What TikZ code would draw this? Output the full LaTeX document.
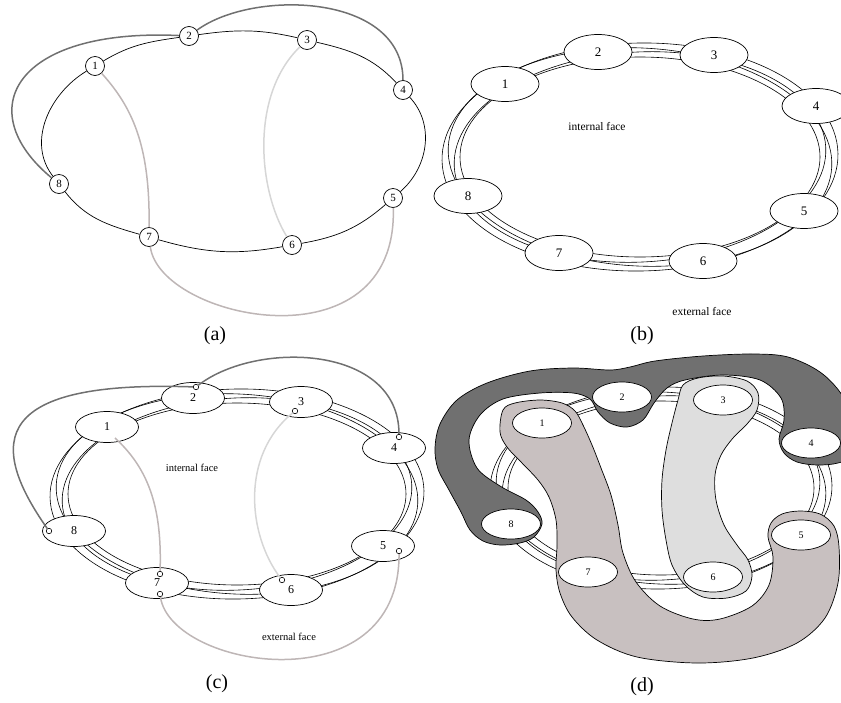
\documentclass[tikz,border=0pt]{standalone}
\usepackage{fontspec}
\setmainfont{Liberation Serif}
\usetikzlibrary{shapes.geometric}
\definecolor{dark-gray}{gray}{0.44}
\definecolor{rose-gray}{RGB}{200,192,192}
\definecolor{pale-gray}{gray}{0.87}
\definecolor{link-rose}{RGB}{190,182,182}
\definecolor{link-pale}{gray}{0.84}
\tikzstyle{vertex}=[draw, circle, fill=white, line width=0.7pt, inner sep=0pt, minimum size=19pt, font=\fontsize{11}{11}\selectfont]
\tikzstyle{disc}=[draw, ellipse, fill=white, line width=0.7pt, inner sep=0pt, minimum width=68pt, minimum height=35pt, font=\fontsize{13}{13}\selectfont]
\tikzstyle{middisc}=[disc, minimum width=63pt, minimum height=31pt, font=\fontsize{12}{12}\selectfont]
\tikzstyle{smalldisc}=[disc, minimum width=59pt, minimum height=30pt, font=\fontsize{10}{10}\selectfont]
\tikzstyle{port}=[draw, circle, fill=white, line width=0.6pt, inner sep=0pt, minimum size=5.5pt]
\tikzstyle{strand}=[line width=0.6pt]
\tikzstyle{darklink}=[dark-gray, line width=1.5pt]
\tikzstyle{roselink}=[link-rose, line width=1.5pt]
\tikzstyle{palelink}=[link-pale, line width=1.5pt]
\tikzstyle{band}=[draw=black, line width=0.7pt]
\tikzstyle{facetext}=[font=\fontsize{11.5}{12}\selectfont]
\tikzstyle{panellabel}=[font=\fontsize{20}{22}\selectfont]
\newcommand{\drawstrands}[4]{% centre x, centre y, x radius, y radius
  \foreach \da/\db/\rot in {-9/-7/0,-3/-2/3,3/2/-3,9/7/1} {
    \pgfmathsetmacro{\strandrx}{#3+\da}
    \pgfmathsetmacro{\strandry}{#4+\db}
    \draw[strand, rotate around={\rot:(#1,#2)}] (#1,#2) ellipse [x radius=\strandrx, y radius=\strandry];
  }
}

\begin{document}
\begin{tikzpicture}[x=1pt, y=1pt]
\useasboundingbox (0,0) rectangle (841,-702);
\clip (0,0) rectangle (841,-702);
% (a) cycle and chords
\begin{scope}
	\foreach \n/\x/\y in {1/95/-66, 2/189/-36, 3/307/-40, 4/403/-90, 5/393/-198, 6/292/-245, 7/149/-237, 8/59/-184}
		\node[vertex] (a\n) at (\x,\y) {\n};
	% cycle edges, tangent to the ellipse
	\foreach \i/\j/\p/\q in {1/2/31/188, 2/3/8/167, 3/4/-13/133, 4/5/-47/41, 5/6/221/10, 6/7/190/-16, 7/8/164/-52, 8/1/128/211}
		\draw[line width=0.7pt] (a\i) to[out=\p, in=\q] (a\j);
	% chords
	\draw[darklink] (a8) .. controls (-30,-110) and (15,-28) .. (a2);
	\draw[darklink] (a2) .. controls (253,11) and (403,7) .. (a4);
	\draw[roselink] (a1) .. controls (135,-110) and (150,-150) .. (a7);
	\draw[palelink] (a3) .. controls (250,-95) and (258,-190) .. (a6);
	\draw[roselink] (a7) .. controls (160,-320) and (398,-370) .. (a5);
	\node[panellabel] (capa) at (215,-336) {(a)};
\end{scope}
% (b) thickened cycle
\begin{scope}
	\drawstrands{640}{-157}{189}{107}
	\foreach \n/\x/\y in {1/505/-84, 2/598/-52, 3/714/-55, 4/816/-106, 5/804/-211, 6/703/-261, 7/559/-253, 8/468/-196}
		\node[disc] (b\n) at (\x,\y) {\n};
	\node[facetext] (bint) at (597,-127) {internal face};
	\node[facetext] (bext) at (702,-312) {external face};
	\node[panellabel] (capb) at (642,-336) {(b)};
\end{scope}
% (c) thickened cycle with the chords on ports
\begin{scope}
	\drawstrands{237}{-494}{178}{98}
	\foreach \n/\x/\y in {1/107/-427, 2/193/-398, 3/301/-402, 4/394/-448, 5/383/-546, 6/291/-590, 7/157/-583, 8/74/-531}
		\node[middisc] (c\n) at (\x,\y) {\n};
	\foreach \n/\x/\y in {2/196/-387, 3/295/-411, 4/399/-437, 5/399/-551, 6/282/-580, 7/160/-574, 8/49/-531}
		\node[port] (p\n) at (\x,\y) {};
	\node[port] (q7) at (160,-594) {};
	\coordinate (q1) at (115,-438);
	\draw[darklink] (p8) .. controls (-15,-440) and (-5,-380) .. (p2);
	\draw[darklink] (p2) .. controls (257,-340) and (399,-345) .. (p4);
	\draw[roselink] (q1) .. controls (150,-470) and (162,-510) .. (p7);
	\draw[palelink] (p3) .. controls (240,-456) and (248,-535) .. (p6);
	\draw[roselink] (q7) .. controls (171,-669) and (400,-706) .. (p5);
	\node[facetext, font=\fontsize{10.5}{11}\selectfont] (cint) at (192,-468) {internal face};
	\node[facetext, font=\fontsize{10.5}{11}\selectfont] (cext) at (289,-637) {external face};
	\node[panellabel] (capc) at (217,-684) {(c)};
\end{scope}
% (d) ribbons
\begin{scope}
	\drawstrands{661}{-488}{162}{94}
	% dark ribbon 8-2-4
	\draw[band, fill=dark-gray] plot[smooth cycle, tension=0.55] coordinates {
		(470,-530) (461,-512) (449,-490) (438,-469) (435,-448) (440,-424) (457,-400) (487,-383)
		(530,-371) (573,-368) (610,-370) (630,-367) (655,-361) (703,-356) (753,-354) (788,-357)
		(820,-372) (842,-395) (855,-425) (852,-455) (838,-463) (817,-465) (797,-462) (784,-453)
		(779,-439) (784,-420) (781,-398) (760,-380) (723,-375) (685,-380) (667,-388) (654,-403)
		(643,-420) (627,-427) (610,-423) (598,-412) (590,-399) (573,-393) (540,-393) (503,-399)
		(480,-415) (469,-440) (477,-468) (500,-486) (526,-500) (538,-512) (542,-524) (534,-537)
		(520,-543) (500,-545) (483,-541)};
	% rose ribbon 1-7-5
	\draw[band, fill=rose-gray] plot[smooth cycle, tension=0.55] coordinates {
		(503,-410) (515,-403) (540,-400) (562,-403) (575,-411) (583,-425) (592,-445) (601,-468)
		(611,-495) (618,-525) (623,-553) (636,-582) (660,-606) (693,-619) (720,-619) (752,-606)
		(769,-585) (773,-557) (768,-537) (771,-523) (782,-514) (800,-511) (820,-514) (834,-526)
		(839,-547) (838,-583) (825,-618) (797,-643) (753,-658) (697,-663) (637,-657) (597,-640)
		(572,-617) (560,-593) (556,-570) (557,-545) (556,-520) (549,-497) (538,-480) (522,-463)
		(507,-447) (500,-432)};
	% pale ribbon 3-6
	\draw[band, fill=pale-gray] plot[smooth cycle, tension=0.55] coordinates {
		(683,-385) (698,-378) (723,-376) (747,-381) (758,-393) (757,-410) (747,-424) (733,-438)
		(721,-455) (715,-475) (716,-500) (724,-525) (737,-545) (748,-560) (752,-576) (746,-591)
		(727,-598) (703,-597) (685,-585) (672,-565) (666,-540) (662,-510) (662,-480) (666,-450)
		(672,-423) (678,-400)};
	\foreach \n/\x/\y in {1/542/-423, 2/622/-397, 3/723/-400, 4/811/-443, 5/801/-535, 6/713/-577, 7/588/-572, 8/511/-524}
		\node[smalldisc] (d\n) at (\x,\y) {\n};
	\node[panellabel] (capd) at (642,-687) {(d)};
\end{scope}
\end{tikzpicture}
\end{document}
